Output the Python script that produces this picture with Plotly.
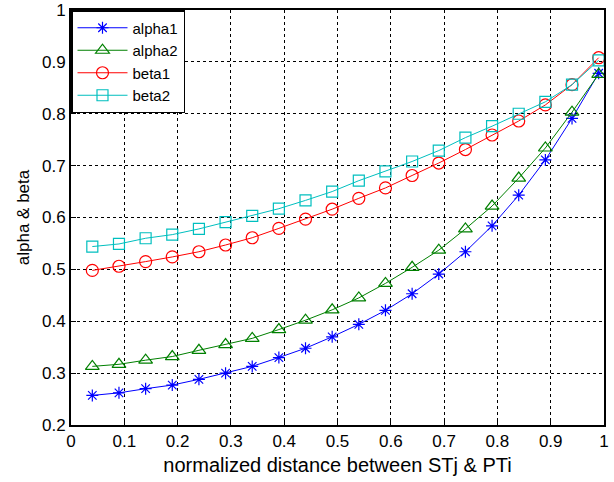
import plotly.graph_objects as go

x_vals = [0.04, 0.09, 0.14, 0.19, 0.24, 0.29, 0.34, 0.39, 0.44, 0.49,
          0.54, 0.59, 0.64, 0.69, 0.74, 0.79, 0.84, 0.89, 0.94, 0.99]
alpha1 = [0.257, 0.262, 0.270, 0.277, 0.288, 0.300, 0.313, 0.330, 0.348, 0.370,
          0.394, 0.421, 0.453, 0.491, 0.534, 0.584, 0.643, 0.711, 0.791, 0.878]
alpha2 = [0.313, 0.317, 0.325, 0.332, 0.344, 0.355, 0.367, 0.384, 0.402, 0.422,
          0.445, 0.473, 0.504, 0.537, 0.578, 0.622, 0.676, 0.734, 0.803, 0.876]
beta1 = [0.498, 0.506, 0.515, 0.524, 0.534, 0.547, 0.561, 0.579, 0.597, 0.616,
         0.637, 0.657, 0.681, 0.705, 0.731, 0.759, 0.786, 0.817, 0.856, 0.908]
beta2 = [0.544, 0.549, 0.560, 0.567, 0.578, 0.591, 0.603, 0.617, 0.633, 0.650,
         0.671, 0.689, 0.708, 0.729, 0.754, 0.776, 0.800, 0.823, 0.856, 0.903]

series = [
    ("alpha1", alpha1, "#0000FF", "asterisk-open", 10),
    ("alpha2", alpha2, "#008000", "triangle-up-open", 12),
    ("beta1", beta1, "#FF0000", "circle-open", 12),
    ("beta2", beta2, "#00BFBF", "square-open", 11),
]

font_family = "Liberation Sans, Arial, sans-serif"

fig = go.Figure()
for name, ys, color, sym, size in series:
    fig.add_trace(go.Scatter(
        x=x_vals, y=ys, name=name, mode="lines+markers",
        line=dict(color=color, width=1),
        marker=dict(symbol=sym, size=size, color=color,
                    line=dict(color=color, width=1.2)),
    ))

axis_common = dict(
    showgrid=True, gridcolor="black", gridwidth=1, griddash="3px,3px",
    showline=True, linecolor="black", linewidth=2, mirror=True,
    ticks="inside", ticklen=5, tickcolor="black",
    tickfont=dict(size=17, color="black", family=font_family),
    zeroline=False, automargin=False,
)

fig.update_layout(
    width=614, height=482,
    margin=dict(l=71, r=10, t=10, b=57),
    paper_bgcolor="white", plot_bgcolor="white",
    font=dict(family=font_family, color="black"),
    xaxis=dict(range=[0, 1], dtick=0.1, tick0=0,
               title=dict(text="normalized distance between STj & PTi",
                          font=dict(size=20), standoff=8),
               **axis_common),
    yaxis=dict(range=[0.2, 1], dtick=0.1, tick0=0.2,
               title=dict(text="alpha & beta", font=dict(size=17), standoff=8),
               **axis_common),
    legend=dict(x=0.0, y=1.0, xanchor="left", yanchor="top",
                bgcolor="white", bordercolor="black", borderwidth=1.5,
                font=dict(size=15, color="black", family=font_family),
                tracegroupgap=0, itemwidth=50),
    showlegend=True,
)

fig.write_html("out.html")
